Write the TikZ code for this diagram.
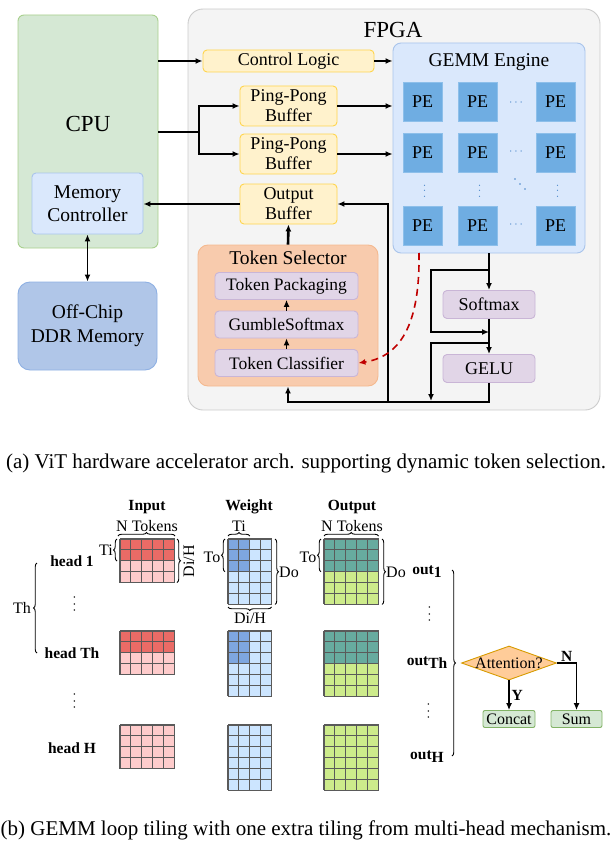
\documentclass[tikz,border=0pt]{standalone}
\usepackage{fontspec}
\setmainfont{Liberation Serif}
\usepackage{amsmath}
\usepackage{xcolor}
\usepackage{tikz}
\usetikzlibrary{arrows.meta}
\usetikzlibrary{shapes.geometric, calc, decorations.pathreplacing}
\definecolor{vertf}{HTML}{D5E8D4}
\definecolor{vertd}{HTML}{A8D08D}
\definecolor{bleuf}{HTML}{DAE8FC}
\definecolor{bleud}{HTML}{A9C4EB}
\definecolor{ddrf}{HTML}{B0C6E8}
\definecolor{ddrd}{HTML}{8EB0E3}
\definecolor{grisf}{HTML}{F4F4F4}
\definecolor{grisd}{HTML}{CCCCCC}
\definecolor{jaunef}{HTML}{FFF2CC}
\definecolor{jauned}{HTML}{FFD54D}
\definecolor{pef}{HTML}{6FADE2}
\definecolor{ped}{HTML}{8DBFEA}
\definecolor{points}{HTML}{4A86C8}
\definecolor{orangef}{HTML}{F8CBAD}
\definecolor{oranged}{HTML}{F4B98F}
\definecolor{violetf}{HTML}{E1D5E7}
\definecolor{violetd}{HTML}{C9B5D6}
\definecolor{rouge}{HTML}{C00000}
\definecolor{entreef}{HTML}{EA6B66}
\definecolor{entreec}{HTML}{FFCCCC}
\definecolor{poidsf}{HTML}{7EA6E0}
\definecolor{poidsc}{HTML}{CCE5FF}
\definecolor{sortief}{HTML}{67AB9F}
\definecolor{sortiec}{HTML}{CDEB8B}
\definecolor{losf}{HTML}{FFCC99}
\definecolor{losd}{HTML}{D79B00}
\definecolor{finf}{HTML}{D5E8D4}
\definecolor{find}{HTML}{82B366}
\definecolor{quad}{HTML}{5A5A5A}

% Tuiles : x, y, colonnes, lignes, colonnes foncees, lignes foncees, foncee, claire
\newcommand{\tuiles}[8]{%
  \fill[#8] (#1,#2) rectangle ({#1+#3*10.9},{#2+#4*10.9});
  \fill[#7] (#1,#2) rectangle ({#1+#5*10.9},{#2+#6*10.9});
  \foreach \k in {0,...,#3}
    \draw[quadrillage] ({#1+\k*10.9},#2) -- ({#1+\k*10.9},{#2+#4*10.9});
  \foreach \k in {0,...,#4}
    \draw[quadrillage] (#1,{#2+\k*10.9}) -- ({#1+#3*10.9},{#2+\k*10.9});
}

\begin{document}
\begin{tikzpicture}[x=1pt, y=-1pt,
    bloc/.style={draw, rounded corners=4pt, align=center, inner sep=0pt, line width=0.9pt},
    tampon/.style={bloc, fill=jaunef, draw=jauned, minimum width=97pt, minimum height=40pt, font=\fontsize{18}{20}\selectfont},
    sousbloc/.style={bloc, fill=violetf, draw=violetd, minimum width=143pt, minimum height=27pt, font=\fontsize{17.5}{20}\selectfont},
    activ/.style={bloc, fill=violetf, draw=violetd, minimum width=92pt, minimum height=28pt, font=\fontsize{18}{20}\selectfont},
    pe/.style={draw=ped, fill=pef, minimum size=39pt, inner sep=0pt, line width=0.8pt, font=\fontsize{18}{20}\selectfont},
    pts/.style={text=points, font=\fontsize{13}{14}\selectfont, inner sep=0pt},
    vpts/.style={font=\fontsize{14}{15}\selectfont, inner sep=0pt, rotate=90},
    fleche/.style={-{Latex[length=7pt,width=6pt]}, line width=1.4pt},
    grasse/.style={-{Latex[length=7pt,width=6pt]}, line width=2.6pt},
    trait/.style={line width=1.4pt},
    pointilles/.style={-{Latex[length=7pt,width=6pt]}, rouge, line width=1.6pt, dash pattern=on 7pt off 5pt},
    quadrillage/.style={quad, line width=1.1pt},
    accolade/.style={decorate, decoration={brace, amplitude=3.5pt}, line width=0.9pt},
    etiq/.style={font=\fontsize{16}{18}\selectfont, inner sep=0pt},
    titre/.style={font=\fontsize{15.5}{18}\selectfont\bfseries, inner sep=0pt},
    fin/.style={bloc, rounded corners=2pt, fill=finf, draw=find, minimum width=52pt, minimum height=17pt, font=\fontsize{16}{18}\selectfont},
    legende/.style={font=\fontsize{21}{23}\selectfont, inner sep=0pt}
  ]
  \useasboundingbox (0,0) rectangle (614,856);

  % ===== (a) architecture =====
  % CPU et memoire
  \node[bloc, rounded corners=6pt, fill=vertf, draw=vertd, minimum width=140pt, minimum height=233pt] (cpu) at (88,131.5) {};
  \node[font=\fontsize{23}{26}\selectfont] (cputxt) at (88,124) {CPU};
  \node[bloc, fill=bleuf, draw=bleud, minimum width=111pt, minimum height=61pt, font=\fontsize{19.5}{23}\selectfont] (memctrl) at (87.5,203.5) {Memory\\Controller};
  \node[bloc, rounded corners=12pt, fill=ddrf, draw=ddrd, minimum width=139pt, minimum height=88pt, font=\fontsize{19.5}{24}\selectfont] (ddr) at (87.5,326) {Off-Chip\\DDR Memory};

  % FPGA
  \node[bloc, rounded corners=15pt, fill=grisf, draw=grisd, minimum width=412pt, minimum height=401pt] (fpga) at (394,209.5) {};
  \node[font=\fontsize{23}{26}\selectfont] (fpgatxt) at (393,30) {FPGA};

  % Moteur GEMM
  \node[bloc, rounded corners=8pt, fill=bleuf, draw=bleud, minimum width=192pt, minimum height=210pt] (gemm) at (489,148) {};
  \node[font=\fontsize{19.5}{22}\selectfont] (gemmtxt) at (489,62) {GEMM Engine};
  \foreach \c/\x in {1/422.5, 2/477.5, 3/555.5}
    \foreach \l/\y in {1/101.5, 2/152.5, 3/226}
      \node[pe] (pe\l\c) at (\x,\y) {PE};
  \node[pts] (h1) at (517,103) {$\cdots$};
  \node[pts] (h2) at (517,152) {$\cdots$};
  \node[pts] (h3) at (517,225) {$\cdots$};
  \node[pts, rotate=90] (v1) at (425,190) {$\cdots$};
  \node[pts, rotate=90] (v2) at (480,190) {$\cdots$};
  \node[pts, rotate=90] (v3) at (558,190) {$\cdots$};
  % points diagonaux
  \foreach \d in {-5,0,5}
    \fill[points] (520+\d,184+\d) circle (0.9pt);

  % Tampons
  \node[bloc, fill=jaunef, draw=jauned, minimum width=171pt, minimum height=22pt, font=\fontsize{18}{20}\selectfont] (ctrl) at (288.5,61) {Control Logic};
  \node[tampon] (ping1) at (288.5,106) {Ping-Pong\\Buffer};
  \node[tampon] (ping2) at (288.5,154) {Ping-Pong\\Buffer};
  \node[tampon] (sortie) at (288.5,204) {Output\\Buffer};

  % Selecteur de tokens
  \node[bloc, rounded corners=10pt, fill=orangef, draw=oranged, minimum width=180pt, minimum height=141pt] (selecteur) at (288,315.5) {};
  \node[font=\fontsize{19.5}{22}\selectfont] (seltxt) at (288,258) {Token Selector};
  \node[sousbloc] (pack) at (286.5,286) {Token Packaging};
  \node[sousbloc] (gumble) at (286.5,324.5) {GumbleSoftmax};
  \node[sousbloc] (classif) at (286.5,363) {Token Classifier};

  % Activations
  \node[activ] (softmax) at (489,304.5) {Softmax};
  \node[activ] (gelu) at (489,368.5) {GELU};

  % Points de passage
  \coordinate (bifurc) at (199,132);
  \coordinate (s1) at (489,270);
  \coordinate (s1g) at (431,270);
  \coordinate (s2g) at (431,332);
  \coordinate (s2) at (489,332);
  \coordinate (g1) at (489,343);
  \coordinate (g1g) at (431,343);
  \coordinate (g2g) at (431,402);
  \coordinate (busg) at (288,402);
  \coordinate (busm) at (388,402);
  \coordinate (depart) at (419,253);

  % Liaisons
  \draw[fleche] (cpu.east |- ctrl) -- (ctrl.west);
  \draw[fleche] (ctrl.east) -- (ctrl.east -| gemm.west);
  \draw[trait] (cpu.east |- bifurc) -- (bifurc);
  \draw[fleche] (bifurc) |- (ping1.west);
  \draw[fleche] (bifurc) |- (ping2.west);
  \draw[grasse] (ping1.east) -- (ping1.east -| gemm.west);
  \draw[grasse] (ping2.east) -- (ping2.east -| gemm.west);
  \draw[fleche] (sortie.west) -- (sortie.west -| memctrl.east);
  \draw[fleche, {Latex[length=7pt,width=6pt]}-{Latex[length=7pt,width=6pt]}] (memctrl.south) -- (ddr.north);
  \draw[grasse] (selecteur.north) -- (sortie.south);
  \draw[fleche, line width=1.2pt] (classif.north) -- (gumble.south);
  \draw[fleche, line width=1.2pt] (gumble.north) -- (pack.south);
  \draw[grasse] (gemm.south) -- (softmax.north);
  \draw[fleche] (s1) -- (s1g) -- (s2g) -- (s2);
  \draw[grasse] (softmax.south) -- (gelu.north);
  \draw[fleche] (g1) -- (g1g) -- ($(g2g)+(0,-1)$);
  \draw[fleche] (gelu.south) |- (busg) -- (selecteur.south);
  \draw[fleche] (busm) |- (sortie.east);
  \draw[pointilles] (depart) .. controls (420,318) and (404,356) .. (classif.east);

  \node[legende] (lega) at (306,463) {(a) ViT hardware accelerator arch. supporting dynamic token selection.};

  % ===== (b) tuilage GEMM =====
  \node[titre] (tin) at (147,507) {Input};
  \node[titre] (tw) at (249,507) {Weight};
  \node[titre] (tout) at (352,507) {Output};

  % Matrices
  \tuiles{120}{539}{5}{4}{5}{2}{entreef}{entreec}
  \tuiles{120}{631}{5}{4}{5}{2}{entreef}{entreec}
  \tuiles{120}{725}{5}{4}{0}{0}{entreef}{entreec}
  \tuiles{228}{539}{4}{6}{2}{3}{poidsf}{poidsc}
  \tuiles{228}{631}{4}{6}{2}{3}{poidsf}{poidsc}
  \tuiles{228}{725}{4}{6}{0}{0}{poidsf}{poidsc}
  \tuiles{324}{539}{5}{6}{5}{3}{sortief}{sortiec}
  \tuiles{324}{631}{5}{6}{5}{3}{sortief}{sortiec}
  \tuiles{324}{725}{5}{6}{0}{0}{sortief}{sortiec}

  % Accolades de l'entree
  \draw[accolade] (118,536) -- (175,536);
  \node[etiq] (nin) at (147,526) {N Tokens};
  \draw[accolade] (117,561) -- (117,539);
  \node[etiq] (tiin) at (106,550) {Ti};
  \draw[accolade] (177,539) -- (177,582.6);
  \node[etiq, rotate=90] (diin) at (189,561) {Di/H};

  % Accolades des poids
  \draw[accolade] (228,536) -- (249.8,536);
  \node[etiq] (tiw) at (239,526) {Ti};
  \draw[accolade] (225,571.7) -- (225,539);
  \node[etiq] (tow) at (212,557) {To};
  \draw[accolade] (275,539) -- (275,604.4);
  \node[etiq] (dow) at (289,572) {Do};
  \draw[accolade] (271.6,607) -- (228,607);
  \node[etiq] (diw) at (250,618) {Di/H};

  % Accolades de la sortie
  \draw[accolade] (324,536) -- (378.5,536);
  \node[etiq] (nout) at (352,526) {N Tokens};
  \draw[accolade] (321,571.7) -- (321,539);
  \node[etiq] (toout) at (308,557) {To};
  \draw[accolade] (382,539) -- (382,604.4);
  \node[etiq] (doout) at (396,572) {Do};

  % Tetes
  \node[titre] (head1) at (72,561) {head 1};
  \node[vpts] (vd1) at (75,603) {$\cdots$};
  \node[titre] (headth) at (72,653) {head Th};
  \node[vpts] (vd2) at (75,700) {$\cdots$};
  \node[titre] (headh) at (72,748) {head H};
  \draw[accolade] (37,653) -- (37,563);
  \node[etiq] (th) at (22,608) {Th};

  % Sorties par tete
  \node[titre] (out1) at (427,572) {out\raisebox{-0.4ex}{1}};
  \node[vpts] (vd3) at (430,613) {$\cdots$};
  \node[titre] (outth) at (427,663) {out\raisebox{-0.4ex}{Th}};
  \node[vpts] (vd4) at (429,710) {$\cdots$};
  \node[titre] (outh) at (427,757) {out\raisebox{-0.4ex}{H}};
  \draw[accolade] (452,570) -- (452,756);

  % Decision
  \node[diamond, draw=losd, fill=losf, line width=0.9pt, minimum width=95pt, minimum height=34pt, inner sep=0pt] (att) at (509,663) {};
  \node[etiq] (atttxt) at (att) {Attention?};
  \node[fin] (concat) at (509,719) {Concat};
  \node[fin, minimum width=51pt] (somme) at (576.5,719) {Sum};
  \draw[fleche, line width=1.2pt] (att.south) -- (concat.north) node[titre, midway, right=2pt] {Y};
  \draw[fleche, line width=1.2pt] (att.east) -| (somme.north) node[titre, pos=0.25, above=1pt] {N};

  \node[legende] (legb) at (306,830) {(b) GEMM loop tiling with one extra tiling from multi-head mechanism.};
\end{tikzpicture}
\end{document}
